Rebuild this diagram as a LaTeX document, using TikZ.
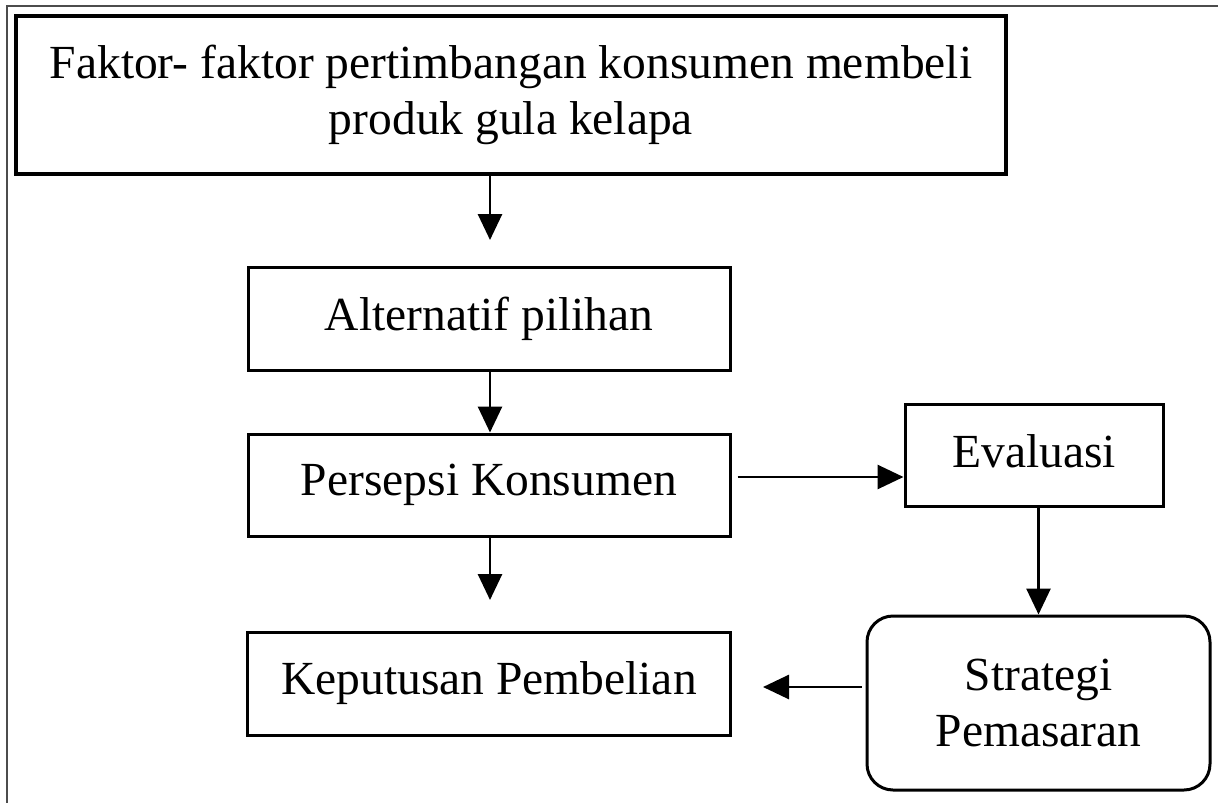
\documentclass[tikz,border=0pt]{standalone}
\usepackage{fontspec}
\setmainfont{Liberation Serif}
\usetikzlibrary{arrows.meta}
\begin{document}
\begin{tikzpicture}[x=1pt,y=1pt,
  box/.style={draw=black,line width=3pt,inner sep=0pt,align=center,
    font=\fontsize{47.5}{56}\selectfont},
  arr/.style={line width=2.8pt,-{Triangle[length=26pt,width=24pt]}}]
\useasboundingbox (0,0) rectangle (1218,-803);
\draw[line width=2.2pt,black!70] (7,-6) rectangle (1240,-830);
\node[box,line width=3.6pt,minimum width=990pt,minimum height=158pt] (f) at (511,-95)
  {Faktor- faktor pertimbangan konsumen membeli\\produk gula kelapa};
\node[box,minimum width=482pt,minimum height=103pt] (a) at (489,-318.5) {Alternatif pilihan};
\node[box,minimum width=482pt,minimum height=102pt] (p) at (489,-485) {Persepsi Konsumen};
\node[box,minimum width=483pt,minimum height=103pt] (k) at (489,-683.5) {Keputusan Pembelian};
\node[box,minimum width=258pt,minimum height=102pt] (e) at (1034,-455) {\raisebox{7pt}{Evaluasi}};
\node[box,rounded corners=26pt,minimum width=343pt,minimum height=174pt] (s) at (1038.5,-703)
  {Strategi\\Pemasaran};
\coordinate (c1) at (490,-240);
\coordinate (c3) at (490,-600);
\coordinate (c5) at (763,-687);
\draw[arr] (f.south -| c1) -- (c1);
\draw[arr] (a.south -| c1) -- (p.north -| c1);
\draw[arr] (p.south -| c1) -- (c3);
\draw[arr] ([xshift=6pt]p.east |- 0,-477) -- (e.west |- 0,-477);
\draw[arr] (s.north |- e.south) -- (s.north);
\draw[arr] ([xshift=-4pt]s.west |- c5) -- (c5);
\end{tikzpicture}
\end{document}
